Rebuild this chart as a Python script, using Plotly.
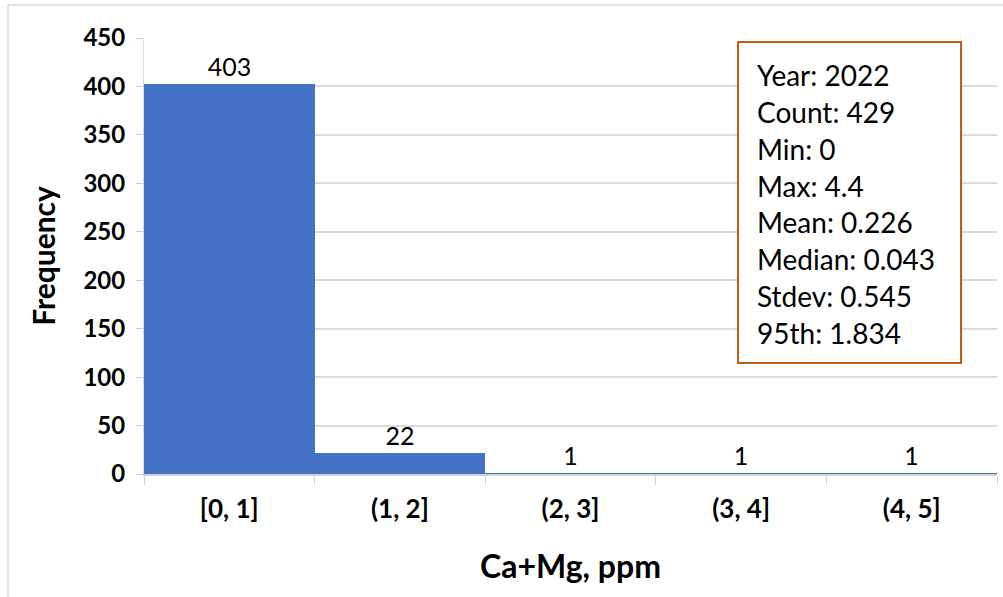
import plotly.graph_objects as go

categories = ["[0, 1]", "(1, 2]", "(2, 3]", "(3, 4]", "(4, 5]"]
frequencies = [403, 22, 1, 1, 1]
stat_lines = ["Year: 2022", "Count: 429", "Min: 0", "Max: 4.4", "Mean: 0.226",
              "Median: 0.043", "Stdev: 0.545", "95th: 1.834"]
y_ticks = [0, 50, 100, 150, 200, 250, 300, 350, 400, 450]

FONT = "Lato, 'Open Sans', sans-serif"

fig = go.Figure()
fig.add_trace(go.Bar(
    x=categories, y=frequencies,
    marker=dict(color="#4472C4", line=dict(width=0)),
    text=[str(v) for v in frequencies], textposition="outside",
    textfont=dict(size=25, color="#000000", family=FONT),
    cliponaxis=False,
))

fig.update_layout(
    width=1003, height=597,
    margin=dict(l=144, r=6, t=38, b=123),
    paper_bgcolor="white", plot_bgcolor="white",
    bargap=0, showlegend=False,
    font=dict(family=FONT, color="#000000"),
)
fig.update_xaxes(
    type="category",
    showline=True, linecolor="#d0d0d0", linewidth=1.5,
    ticks="outside", tickson="boundaries", ticklen=9, tickcolor="#d0d0d0",
    tickfont=dict(size=26, family=FONT, color="#000000", weight="bold"),
    ticklabelstandoff=11,
    title=dict(text="<b>Ca+Mg, ppm</b>", font=dict(size=32, family=FONT), standoff=33),
    showgrid=False,
)
fig.update_yaxes(
    range=[0, 450], tickvals=y_ticks,
    showgrid=True, gridcolor="#d9d9d9", gridwidth=1.5,
    showline=True, linecolor="#d9d9d9", linewidth=1,
    ticks="outside", ticklen=7, tickcolor="#d0d0d0",
    tickfont=dict(size=24, family=FONT, color="#000000", weight="bold"),
    ticklabelstandoff=6,
    title=dict(text="<b>Frequency</b>", font=dict(size=30, family=FONT), standoff=18),
    zeroline=False,
)

# outer chart border (top and left visible)
fig.add_shape(type="rect", xref="paper", yref="paper",
              x0=-0.1594, x1=1.2, y0=-0.6, y1=1.0757,
              line=dict(color="#d9d9d9", width=1.5), layer="below")

# stats box
fig.add_shape(type="rect", xref="paper", yref="paper",
              x0=0.6964, x1=0.9578, y0=0.2546, y1=0.9908,
              line=dict(color="#C55A11", width=2), fillcolor="white", layer="above")
for i, line in enumerate(stat_lines):
    fig.add_annotation(xref="paper", yref="paper", x=0.7163, y=0.9151 - i * 0.08454,
                       xanchor="left", yanchor="middle", showarrow=False,
                       text=line, font=dict(size=28, family=FONT, color="#000000"))

fig.write_html("out.html", config={"displayModeBar": False},
               post_script="document.body.style.margin='0';")
